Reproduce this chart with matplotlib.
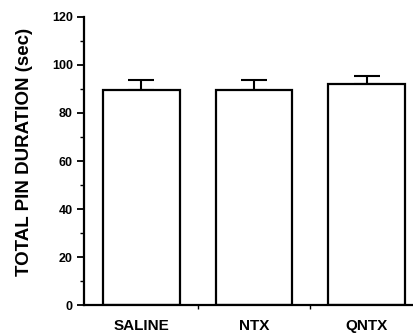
import matplotlib
matplotlib.use("Agg")
import matplotlib.pyplot as plt
from matplotlib.ticker import MultipleLocator, FixedLocator

# Values
groups = ["SALINE", "NTX", "QNTX"]
means = [89.4, 89.4, 92.0]
sems = [4.4, 4.2, 3.6]

plt.rcParams["font.family"] = ["Liberation Sans", "DejaVu Sans"]
plt.rcParams["font.weight"] = "bold"

fig = plt.figure(figsize=(4.14, 3.33), dpi=100)
ax = fig.add_axes([0.203, 0.084, 0.797, 0.865])

x = list(range(len(groups)))
ax.bar(x, means, width=0.68, color="white", edgecolor="black", linewidth=1.6, zorder=2)
ax.errorbar(x, means, yerr=[[0] * len(sems), sems], fmt="none", ecolor="black",
            elinewidth=1.5, capsize=9.5, capthick=1.5, zorder=1)

ax.set_xlim(-0.51, 2.42)
ax.set_ylim(0, 120)

ax.spines["top"].set_visible(False)
ax.spines["right"].set_visible(False)
ax.spines["left"].set_linewidth(1.6)
ax.spines["bottom"].set_linewidth(1.6)

ax.yaxis.set_major_locator(MultipleLocator(20))
ax.yaxis.set_minor_locator(MultipleLocator(10))
ax.tick_params(axis="y", which="major", length=5, width=1.3, labelsize=9, pad=3)
ax.tick_params(axis="y", which="minor", length=3, width=1.0)

ax.set_xticks(x)
ax.set_xticklabels(groups, fontsize=11)
ax.xaxis.set_minor_locator(FixedLocator([0.5, 1.5]))
ax.tick_params(axis="x", which="major", length=0, pad=10)
ax.tick_params(axis="x", which="minor", length=3, width=1.0)

ax.set_ylabel("TOTAL PIN DURATION (sec)", fontsize=13.5, fontweight="bold")
ax.yaxis.set_label_coords(-0.155, 0.53)

fig.savefig("out.png", dpi=100)
